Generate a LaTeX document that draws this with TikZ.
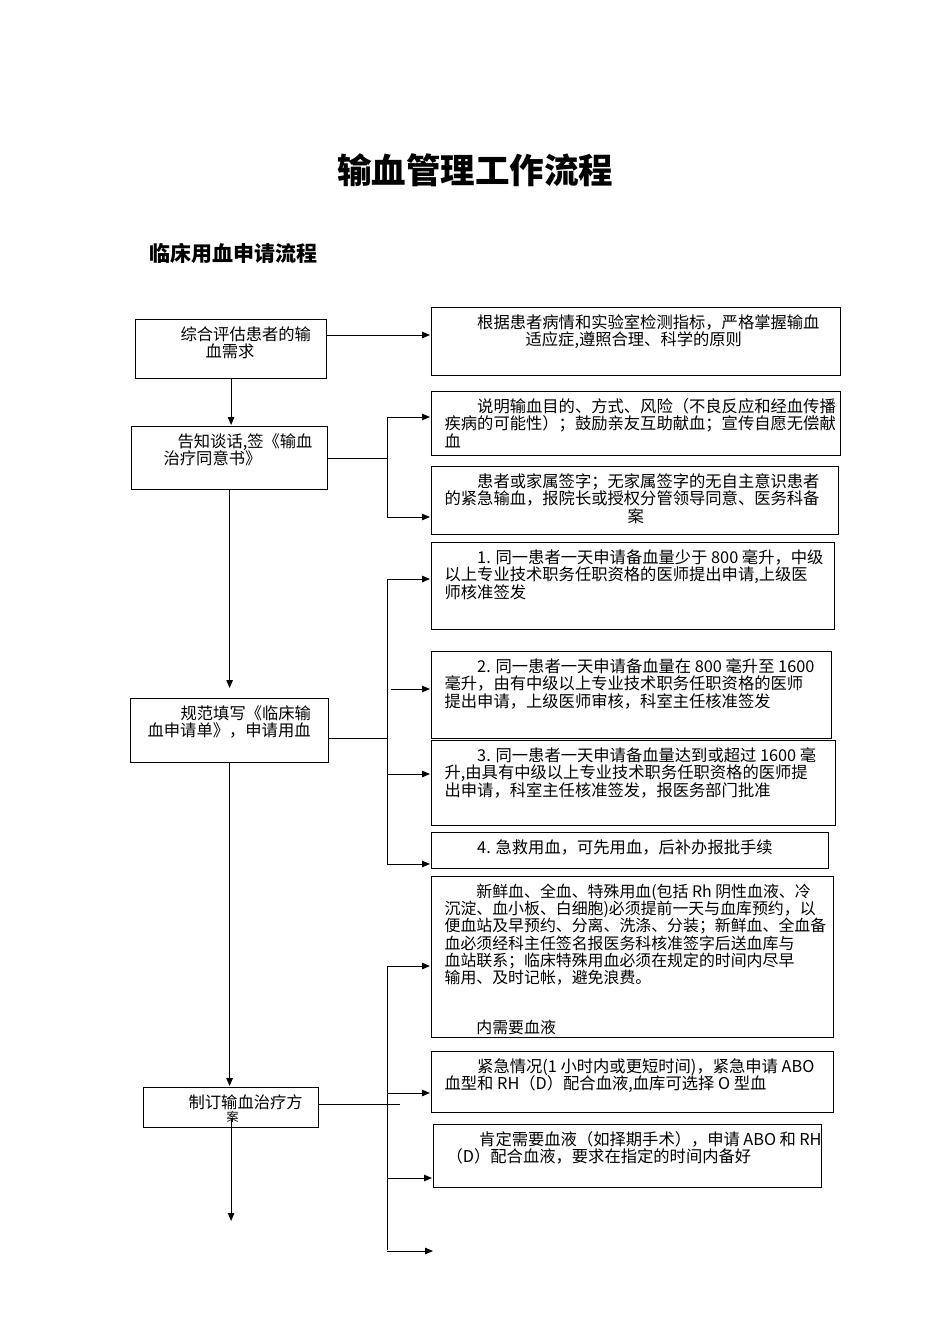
\documentclass[tikz,border=0pt]{standalone}
\usepackage{fontspec}
\setmainfont{Noto Sans CJK SC}
\usetikzlibrary{arrows.meta}

\newcommand{\flowfont}{\fontsize{16.3}{17.3}\selectfont}
% Breite, Hoehe, Einzug links, Text
\newcommand{\boxtext}[4]{\parbox[c][#2pt][t]{#1pt}{\flowfont\raggedright\leftskip=#3pt\relax\vspace*{7pt}#4}}

\tikzset{
  flowbox/.style={draw, line width=1.2pt, inner sep=0pt, anchor=north west},
}

\begin{document}
\begin{tikzpicture}[x=1pt,y=-1pt,>={Triangle[length=8pt,width=6.5pt]},line width=1pt,shorten >=1pt]
	\useasboundingbox (0,0) rectangle (950,1344);
	
	%Titel
	\node (title) at (475,170) {\fontsize{34.5}{40}\selectfont\bfseries 输血管理工作流程};
	\node[anchor=west] (subtitle) at (146,253) {\fontsize{21}{24}\selectfont\bfseries 临床用血申请流程};
	
	%Knoten links
	\node[flowbox] (l1) at (135,319) {\boxtext{191}{59}{0}{\hspace*{45pt}综合评估患者的输\\\hspace*{70pt}血需求}};
	\node[flowbox] (l2) at (131,426) {\boxtext{196}{63}{0}{\hspace*{46pt}告知谈话,签《输血\\\hspace*{32pt}治疗同意书》}};
	\node[flowbox] (l3) at (130,698) {\boxtext{198}{64}{0}{\hspace*{50pt}规范填写《临床输\\\hspace*{17pt}血申请单》，申请用血}};
	\node[flowbox] (l4) at (143,1087) {\boxtext{175}{40}{0}{\hspace*{45pt}制订输血治疗方\\[-4pt]\hspace*{83pt}{\fontsize{12}{12}\selectfont 案}}};
	
	%Knoten rechts
	\node[flowbox] (r1) at (431,307) {\boxtext{409}{68}{13}{\hspace*{2em}根据患者病情和实验室检测指标，严格掌握输血\\\hspace*{81pt}适应症,遵照合理、科学的原则}};
	\node[flowbox] (r2) at (431,391) {\boxtext{409}{64}{13}{\hspace*{2em}说明输血目的、方式、风险（不良反应和经血传播\\疾病的可能性）；鼓励亲友互助献血；宣传自愿无偿献\\血}};
	\node[flowbox] (r3) at (431,466) {\boxtext{407}{68}{13}{\hspace*{2em}患者或家属签字；无家属签字的无自主意识患者\\的紧急输血，报院长或授权分管领导同意、医务科备\\\hspace*{183pt}案}};
	\node[flowbox] (r4) at (431,542) {\boxtext{403}{87}{13}{\hspace*{2em}1. 同一患者一天申请备血量少于 800 毫升，中级\\以上专业技术职务任职资格的医师提出申请,上级医\\师核准签发}};
	\node[flowbox] (r5) at (431,651) {\boxtext{400}{87}{13}{\hspace*{2em}2. 同一患者一天申请备血量在 800 毫升至 1600\\毫升，由有中级以上专业技术职务任职资格的医师\\提出申请，上级医师审核，科室主任核准签发}};
	\node[flowbox] (r6) at (431,740) {\boxtext{404}{85}{13}{\hspace*{2em}3. 同一患者一天申请备血量达到或超过 1600 毫\\升,由具有中级以上专业技术职务任职资格的医师提\\出申请，科室主任核准签发，报医务部门批准}};
	\node[flowbox] (r7) at (431,832) {\boxtext{397}{36}{13}{\hspace*{2em}4. 急救用血，可先用血，后补办报批手续}};
	\node[flowbox] (r8) at (431,876) {\boxtext{402}{161}{13}{\fontsize{15.9}{17.3}\selectfont\hspace*{2em}新鲜血、全血、特殊用血(包括 Rh 阴性血液、冷\\沉淀、血小板、白细胞)必须提前一天与血库预约，以\\便血站及早预约、分离、洗涤、分装；新鲜血、全血备\\血必须经科主任签名报医务科核准签字后送血库与\\血站联系；临床特殊用血必须在规定的时间内尽早\\输用、及时记帐，避免浪费。\\[32.7pt]\hspace*{2em}内需要血液}};
	\node[flowbox] (r9) at (431,1051) {\boxtext{402}{61}{13}{\hspace*{2em}紧急情况(1~小时内或更短时间)，紧急申请~ABO\\血型和 RH（D）配合血液,血库可选择 O 型血}};
	\node[flowbox] (r10) at (433,1124) {\boxtext{388}{63}{13}{\hspace*{2em}肯定需要血液（如择期手术），申请 ABO 和 RH\\（D）配合血液，要求在指定的时间内备好}};
	
	%Verzweigungen
	\coordinate (j1) at (387,458);
	\coordinate (j1t) at (387,417);
	\coordinate (j1b) at (387,517);
	\coordinate (j2) at (387,738);
	\coordinate (j2t) at (387,579);
	\coordinate (j2m) at (391,689);
	\coordinate (j2n) at (387,774);
	\coordinate (j2b) at (387,864);
	\coordinate (j3) at (400,1104);
	\coordinate (j3t) at (387,966);
	\coordinate (j3m) at (387,1093);
	\coordinate (j3n) at (387,1178);
	\coordinate (j3b) at (387,1251);
	\coordinate (j3e) at (434,1251);
	\coordinate (down) at (230,1222);
	
	%Kanten
	\draw (l2.east |- j1) -- (j1) (j1t) -- (j1b)
	(l3.east |- j2) -- (j2) (j2t) -- (j2b)
	(l4.east |- j3) -- (j3) (j3t) -- (j3b);
	
	\path[->]
	(l1.east |- 0,335) edge (r1.west |- 0,335)
	(l1.south) edge (l1.south |- l2.north)
	(l2.south) edge [shorten >=10pt] (l2.south |- l3.north)
	(l3.south) edge (l3.south |- l4.north)
	
	(j1t) edge (r2.west |- j1t)
	(j1b) edge (r3.west |- j1b)
	
	(j2t) edge (r4.west |- j2t)
	(j2m) edge (r5.west |- j2m)
	(j2n) edge (r6.west |- j2n)
	(j2b) edge (r7.west |- j2b)
	
	(j3t) edge (r8.west |- j3t)
	(j3m) edge (r9.west |- j3m)
	(j3n) edge (r10.west |- j3n)
	(j3b) edge (j3e);
	
	\draw[->] (l4.south) ++(0,-10) -- (l4.south |- down);
	
\end{tikzpicture}
\end{document}
